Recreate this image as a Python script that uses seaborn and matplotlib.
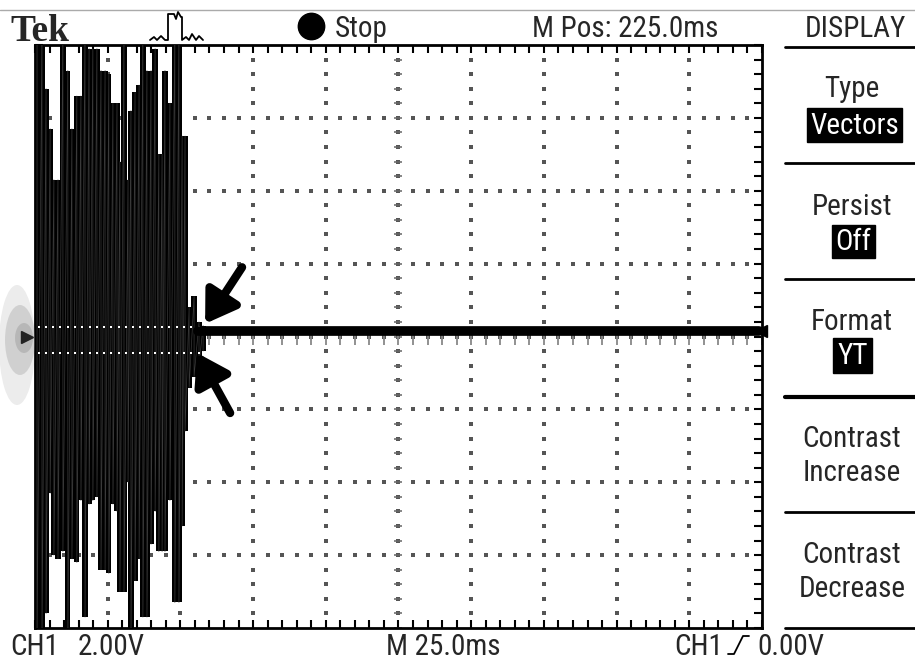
import numpy as np
import pandas as pd
import matplotlib.pyplot as plt
import matplotlib.lines as mlines
import matplotlib.patches as mpatches
from matplotlib import font_manager
import seaborn as sns

W, H = 915, 660

# screen: 10 div x 25.0 ms, 8 div x 2.00 V
t_start, t_stop = 100.0, 350.0
v_min, v_max = -8.0, 8.0
center_t = 225.0

# burst, column by column: time (ms), top and bottom of the trace (V)
burst_t = [100.7, 102.4, 103.8, 105.2, 106.5, 107.9, 109.6, 111.3, 112.7, 114.4,
           115.8, 117.2, 118.6, 119.9, 121.3, 122.7, 124.1, 125.4, 126.8, 128.2,
           129.2, 130.6, 132.0, 133.0, 134.4, 135.8, 137.1, 138.5, 139.9, 141.3,
           142.6, 143.7, 144.7, 146.4, 148.1, 149.5, 150.6, 151.6, 153.0, 154.7,
           156.4, 157.8]
burst_hi = [8.4, 8.4, 6.8, 5.7, 4.3, 4.3, 8.4, 7.3, 5.7, 6.6,
            6.6, 8.4, 7.9, 7.9, 7.9, 7.3, 7.3, 7.2, 6.4, 6.4,
            4.8, 8.4, 4.3, 6.2, 6.7, 6.9, 8.4, 7.3, 7.3, 7.9,
            5.0, 5.0, 7.3, 6.4, 8.4, 8.4, 5.5, 5.5, 0.8, 1.1,
            0.4, 0.3]
burst_lo = [-8.4, -8.4, -7.6, -4.3, -6.0, -6.1, -5.9, -8.4, -6.1, -6.2,
            -4.5, -7.7, -4.6, -4.5, -4.4, -6.4, -6.4, -6.5, -4.6, -4.8,
            -7.0, -7.0, -4.0, -8.4, -6.7, -6.1, -7.7, -7.7, -5.7, -4.8,
            -5.9, -5.9, -5.9, -4.5, -7.3, -7.3, -5.2, -2.6, -1.4, -1.1,
            -0.8, -0.4]

# flat trace after the burst
tail_t = [156.0, 200.0, 250.0, 300.0, 349.0]
tail_v = [0.15, 0.15, 0.15, 0.15, 0.15]

menu_titles = ["Type", "Persist", "Format", "Contrast", "Contrast"]
menu_subs = [None, None, None, "Increase", "Decrease"]
menu_values = ["Vectors", "Off", "YT"]


def fx(x):
    return x / W


def fy(y):
    return 1 - y / H


sns.set_theme(style="white")
names = {f.name for f in font_manager.fontManager.ttflist}
if "Liberation Sans Narrow" in names:
    fam, fs = "Liberation Sans Narrow", 21
elif "Roboto Condensed" in names:
    fam, fs = "Roboto Condensed", 21
else:
    fam, fs = "Liberation Sans", 18
plt.rcParams["font.family"] = [fam, "DejaVu Sans"]

fig = plt.figure(figsize=(W / 100, H / 100), dpi=100)
ax = fig.add_axes([fx(35), fy(628), fx(762) - fx(35), fy(45) - fy(628)])

# graticule
major_t = np.arange(t_start, t_stop + 1, 25)
major_v = np.arange(v_min, v_max + 0.1, 2)
minor_t = np.arange(t_start, t_stop + 0.1, 5)
minor_v = np.arange(v_min, v_max + 0.01, 0.4)
dots = pd.DataFrame([(t, v) for t in major_t[1:-1] for v in minor_v[1:-1]]
                    + [(t, v) for v in major_v[1:-1] for t in minor_t[1:-1]],
                    columns=["t", "v"])
ax.scatter(dots.t, dots.v, s=5, marker="s", color="#555", linewidths=0, zorder=1)
ax.scatter([center_t] * len(minor_v), minor_v, s=30, marker="_", color="#666", lw=1.1, zorder=1)
ax.scatter(minor_t, [-0.1] * len(minor_t), s=60, marker="|", color="#888", lw=1.3, zorder=1)

# burst
bw = 1.8
ax.bar(burst_t, np.subtract(burst_hi, burst_lo), bottom=burst_lo, width=bw, color="black", lw=0, zorder=2)
zz = pd.DataFrame({"t": np.repeat(burst_t, 2),
                   "v": np.column_stack([burst_hi, burst_lo]).ravel()})
sns.lineplot(data=zz, x="t", y="v", sort=False, estimator=None, color="#3a3a3a", lw=0.5, ax=ax, zorder=3)

# centre-line tick rows showing through the burst
bt, bh, bl = np.array(burst_t), np.array(burst_hi), np.array(burst_lo)
for v in [0.25, -0.45]:
    ts = np.arange(t_start + 1.25, bt[-1], 2.5)
    inside = [np.any((np.abs(bt - t) <= bw / 2) & (bl <= v) & (bh >= v)) for t in ts]
    ax.scatter(ts[inside], [v] * int(np.sum(inside)), s=4, marker="s", color="white", linewidths=0, zorder=4)

# flat trace
sns.lineplot(x=tail_t, y=tail_v, color="black", lw=7, ax=ax, zorder=5)
ax.plot([tail_t[-1] + 0.5], [tail_v[-1]], marker="<", ms=9, color="black", clip_on=False, zorder=6)

# arrows pointing at the end of the burst
arrow = dict(arrowstyle="-|>,head_length=0.7,head_width=0.45", lw=6, color="black",
             mutation_scale=26, shrinkA=0, shrinkB=0)
ax.annotate("", xy=(158.5, 0.35), xytext=(171.2, 1.9), arrowprops=arrow, zorder=7)
ax.annotate("", xy=(155.7, -0.45), xytext=(167.1, -2.1), arrowprops=arrow, zorder=7)

ax.set_xlim(t_start, t_stop)
ax.set_ylim(v_min, v_max)
ax.set_xticks(minor_t)
ax.set_yticks(minor_v)
ax.tick_params(direction="in", length=6, width=1.5, color="black", top=True, right=True,
               bottom=True, left=True, labelbottom=False, labelleft=False)
ax.set_xlabel("")
ax.set_ylabel("")
ax.grid(False)
for s in ax.spines.values():
    s.set_color("black")
    s.set_linewidth(2)

# status bar
fig.add_artist(mlines.Line2D([0, 1], [fy(10), fy(10)], color="#aaa", lw=1, transform=fig.transFigure))
fig.text(fx(10), fy(41), "Tek", family=["Liberation Serif", "DejaVu Serif"], weight="bold", fontsize=27)
icon_x = [150, 154, 157, 161, 165, 168, 168, 174, 176, 178, 181, 182, 182, 186, 189, 192, 196, 199, 203]
icon_y = [40, 37, 40, 36, 40, 40, 14, 14, 19, 12, 17, 17, 40, 37, 40, 34, 40, 36, 40]
fig.add_artist(mlines.Line2D([fx(x) for x in icon_x], [fy(y) for y in icon_y], color="black", lw=1.3,
                             transform=fig.transFigure))
fig.add_artist(mlines.Line2D([fx(311)], [fy(26)], marker="o", ms=19, color="black", transform=fig.transFigure))
fig.text(fx(335), fy(37), "Stop", fontsize=fs)
fig.text(fx(625), fy(37), "M Pos: 225.0ms", fontsize=fs, ha="center")
fig.text(fx(855), fy(37), "DISPLAY", fontsize=fs, ha="center")

# menu
for y, lw in [(47, 2), (163, 2), (279, 2), (397, 3), (512, 2), (628, 2)]:
    fig.add_artist(mlines.Line2D([fx(785), 1], [fy(y), fy(y)], color="black", lw=lw, transform=fig.transFigure))
title_base = [97, 215, 330, 447, 563]
for title, sub, yb in zip(menu_titles, menu_subs, title_base):
    fig.text(fx(852), fy(yb), title, fontsize=fs, ha="center")
    if sub:
        fig.text(fx(852), fy(yb + 34), sub, fontsize=fs, ha="center")
boxes = [(807, 108, 95, 34), (832, 225, 43, 33), (833, 338, 39, 35)]
for val, (bx, by, bwid, bht) in zip(menu_values, boxes):
    fig.add_artist(mpatches.Rectangle((fx(bx), fy(by + bht)), bwid / W, bht / H, color="black",
                                      transform=fig.transFigure))
    fig.text(fx(bx + bwid / 2), fy(by + bht / 2 + 9), val, fontsize=fs, ha="center", color="white")

# left ground marker smudge
for cx, cy, ew, eh, a in [(17, 345, 36, 120, 0.15), (20, 340, 30, 70, 0.25), (24, 338, 18, 30, 0.3)]:
    fig.add_artist(mpatches.Ellipse((fx(cx), fy(cy)), ew / W, eh / H, color="gray", alpha=a, lw=0,
                                    transform=fig.transFigure))
fig.add_artist(mlines.Line2D([fx(27)], [fy(337)], marker=">", ms=9, color="#222", transform=fig.transFigure))

# bottom readout
fig.text(fx(10), fy(655), "CH1", fontsize=fs)
fig.text(fx(78), fy(655), "2.00V", fontsize=fs)
fig.text(fx(443), fy(655), "M 25.0ms", fontsize=fs, ha="center")
fig.text(fx(674), fy(655), "CH1", fontsize=fs)
fig.add_artist(mlines.Line2D([fx(728), fx(734), fx(743), fx(749)], [fy(654), fy(654), fy(636), fy(636)],
                             color="black", lw=1.3, transform=fig.transFigure))
fig.text(fx(757), fy(655), "0.00V", fontsize=fs)

fig.savefig("out.png", dpi=100, facecolor="white")
